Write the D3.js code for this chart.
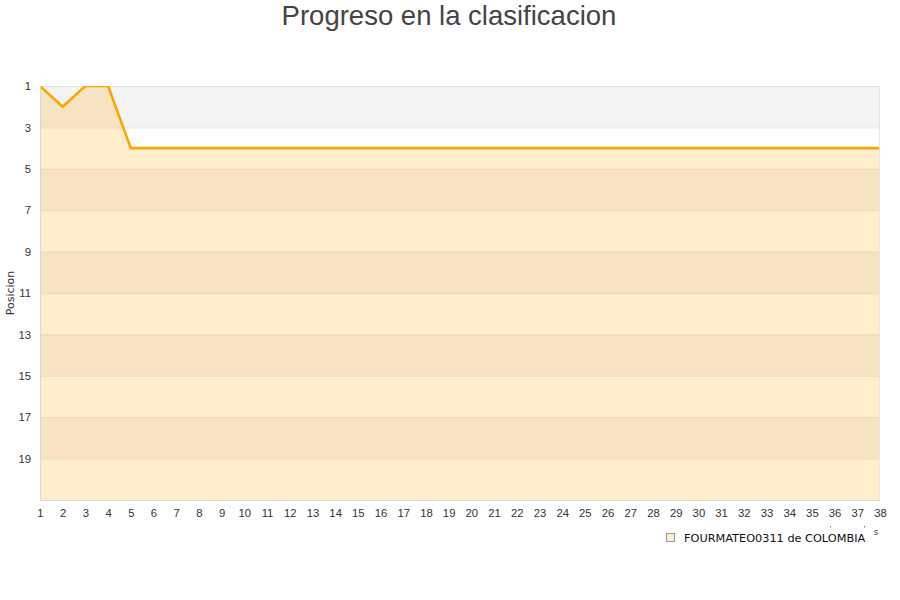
<!DOCTYPE html>
<html>
<head>
<meta charset="utf-8">
<script src="https://cdn.jsdelivr.net/npm/d3@7"></script>
<style>
  body { margin: 0; background: #fff; }
  svg { font-family: "DejaVu Sans", sans-serif; }
</style>
</head>
<body>
<svg id="chart" width="900" height="600"></svg>
<script>
const jornadas = [1, 2, 3, 4, 5, 6, 7, 8, 9, 10, 11, 12, 13, 14, 15, 16, 17, 18, 19,
  20, 21, 22, 23, 24, 25, 26, 27, 28, 29, 30, 31, 32, 33, 34, 35, 36, 37, 38]
const posiciones = [1, 2, 1, 1, 4, 4, 4, 4, 4, 4, 4, 4, 4, 4, 4, 4, 4, 4, 4,
  4, 4, 4, 4, 4, 4, 4, 4, 4, 4, 4, 4, 4, 4, 4, 4, 4, 4, 4]
const yTicks = [1, 3, 5, 7, 9, 11, 13, 15, 17, 19]
const bandas = [[1, 3], [5, 7], [9, 11], [13, 15], [17, 19]]
const equipo = "FOURMATEO0311 de COLOMBIA"

const margin = { top: 86, right: 20, bottom: 100, left: 40 }
const width = 900, height = 600
const svg = d3.select("#chart")

const x = d3.scaleLinear().domain([1, 38]).range([margin.left, width - margin.right])
const y = d3.scaleLinear().domain([1, 21]).range([margin.top, height - margin.bottom])

svg.append("defs").append("clipPath").attr("id", "plot")
  .append("rect")
  .attr("x", x(1)).attr("y", y(1))
  .attr("width", x(38) - x(1)).attr("height", y(21) - y(1))

// bandas alternas
svg.append("g")
  .selectAll("rect")
  .data(bandas)
  .enter()
  .append("rect")
  .attr("x", x(1))
  .attr("width", x(38) - x(1))
  .attr("y", d => y(d[0]))
  .attr("height", d => y(d[1]) - y(d[0]))
  .attr("fill", "#f3f3f3")

// grid
svg.append("g")
  .selectAll("line")
  .data(yTicks)
  .enter()
  .append("line")
  .attr("x1", x(1)).attr("x2", x(38))
  .attr("y1", d => y(d) + 0.5).attr("y2", d => y(d) + 0.5)
  .attr("stroke", "#e6e6e6")

const data = jornadas.map((j, i) => ({ j, p: posiciones[i] }))

const area = d3.area()
  .x(d => x(d.j))
  .y0(y(21))
  .y1(d => y(d.p))

svg.append("path")
  .datum(data)
  .attr("d", area)
  .attr("fill", "#ffa500")
  .attr("fill-opacity", 0.2)

const line = d3.line()
  .x(d => x(d.j))
  .y(d => y(d.p))

svg.append("path")
  .datum(data)
  .attr("d", line)
  .attr("clip-path", "url(#plot)")
  .attr("fill", "none")
  .attr("stroke", "#ffa500")
  .attr("stroke-width", 2.6)
  .attr("stroke-linejoin", "round")

// bordes del area
svg.append("line")
  .attr("x1", x(1) + 0.5).attr("x2", x(1) + 0.5)
  .attr("y1", y(1)).attr("y2", y(21))
  .attr("stroke", "#d8d8d8")
svg.append("line")
  .attr("x1", x(1)).attr("x2", x(38))
  .attr("y1", y(21) + 0.5).attr("y2", y(21) + 0.5)
  .attr("stroke", "#d8d8d8")
svg.append("line")
  .attr("x1", x(38) - 0.5).attr("x2", x(38) - 0.5)
  .attr("y1", y(1)).attr("y2", y(21))
  .attr("stroke", "#e6e6e6")

// ejes
const yAxis = svg.append("g")
  .attr("transform", `translate(${margin.left},0)`)
  .call(d3.axisLeft(y).tickValues(yTicks).tickSize(0).tickPadding(9))
yAxis.select(".domain").remove()
yAxis.selectAll("text").attr("fill", "#333").attr("font-size", 11.3)

const xAxis = svg.append("g")
  .attr("transform", `translate(0,${height - margin.bottom})`)
  .call(d3.axisBottom(x).tickValues(jornadas).tickFormat(d3.format("d")).tickSize(0).tickPadding(9))
xAxis.select(".domain").remove()
xAxis.selectAll("text").attr("fill", "#333").attr("font-size", 11.3)

svg.append("text")
  .attr("transform", `translate(14,${(y(1) + y(21)) / 2}) rotate(-90)`)
  .attr("text-anchor", "middle")
  .attr("font-size", 11)
  .attr("fill", "#333")
  .text("Posicion")

svg.append("text")
  .attr("x", width / 2 - 1)
  .attr("y", 25)
  .attr("text-anchor", "middle")
  .attr("font-family", "Liberation Sans, Arial, sans-serif")
  .attr("font-size", 27.5)
  .attr("fill", "#444")
  .text("Progreso en la clasificacion")

// restos del titulo del eje x
svg.append("text")
  .attr("x", 876).attr("y", 535)
  .attr("text-anchor", "middle")
  .attr("font-size", 9)
  .attr("fill", "#444")
  .text("s")
svg.selectAll(".dot")
  .data([830, 864])
  .enter()
  .append("rect")
  .attr("x", d => d).attr("y", 526)
  .attr("width", 1).attr("height", 1.5)
  .attr("fill", "#777")

// leyenda
const legend = svg.append("g").attr("transform", "translate(666,533)")
legend.append("rect")
  .attr("x", 0.5).attr("y", 0.5)
  .attr("width", 8).attr("height", 8)
  .attr("fill", "#ffedcc")
  .attr("stroke", "#999")
legend.append("text")
  .attr("x", 18)
  .attr("y", 8.5)
  .attr("font-size", 11.3)
  .attr("fill", "#111")
  .text(equipo)
</script>
</body>
</html>
